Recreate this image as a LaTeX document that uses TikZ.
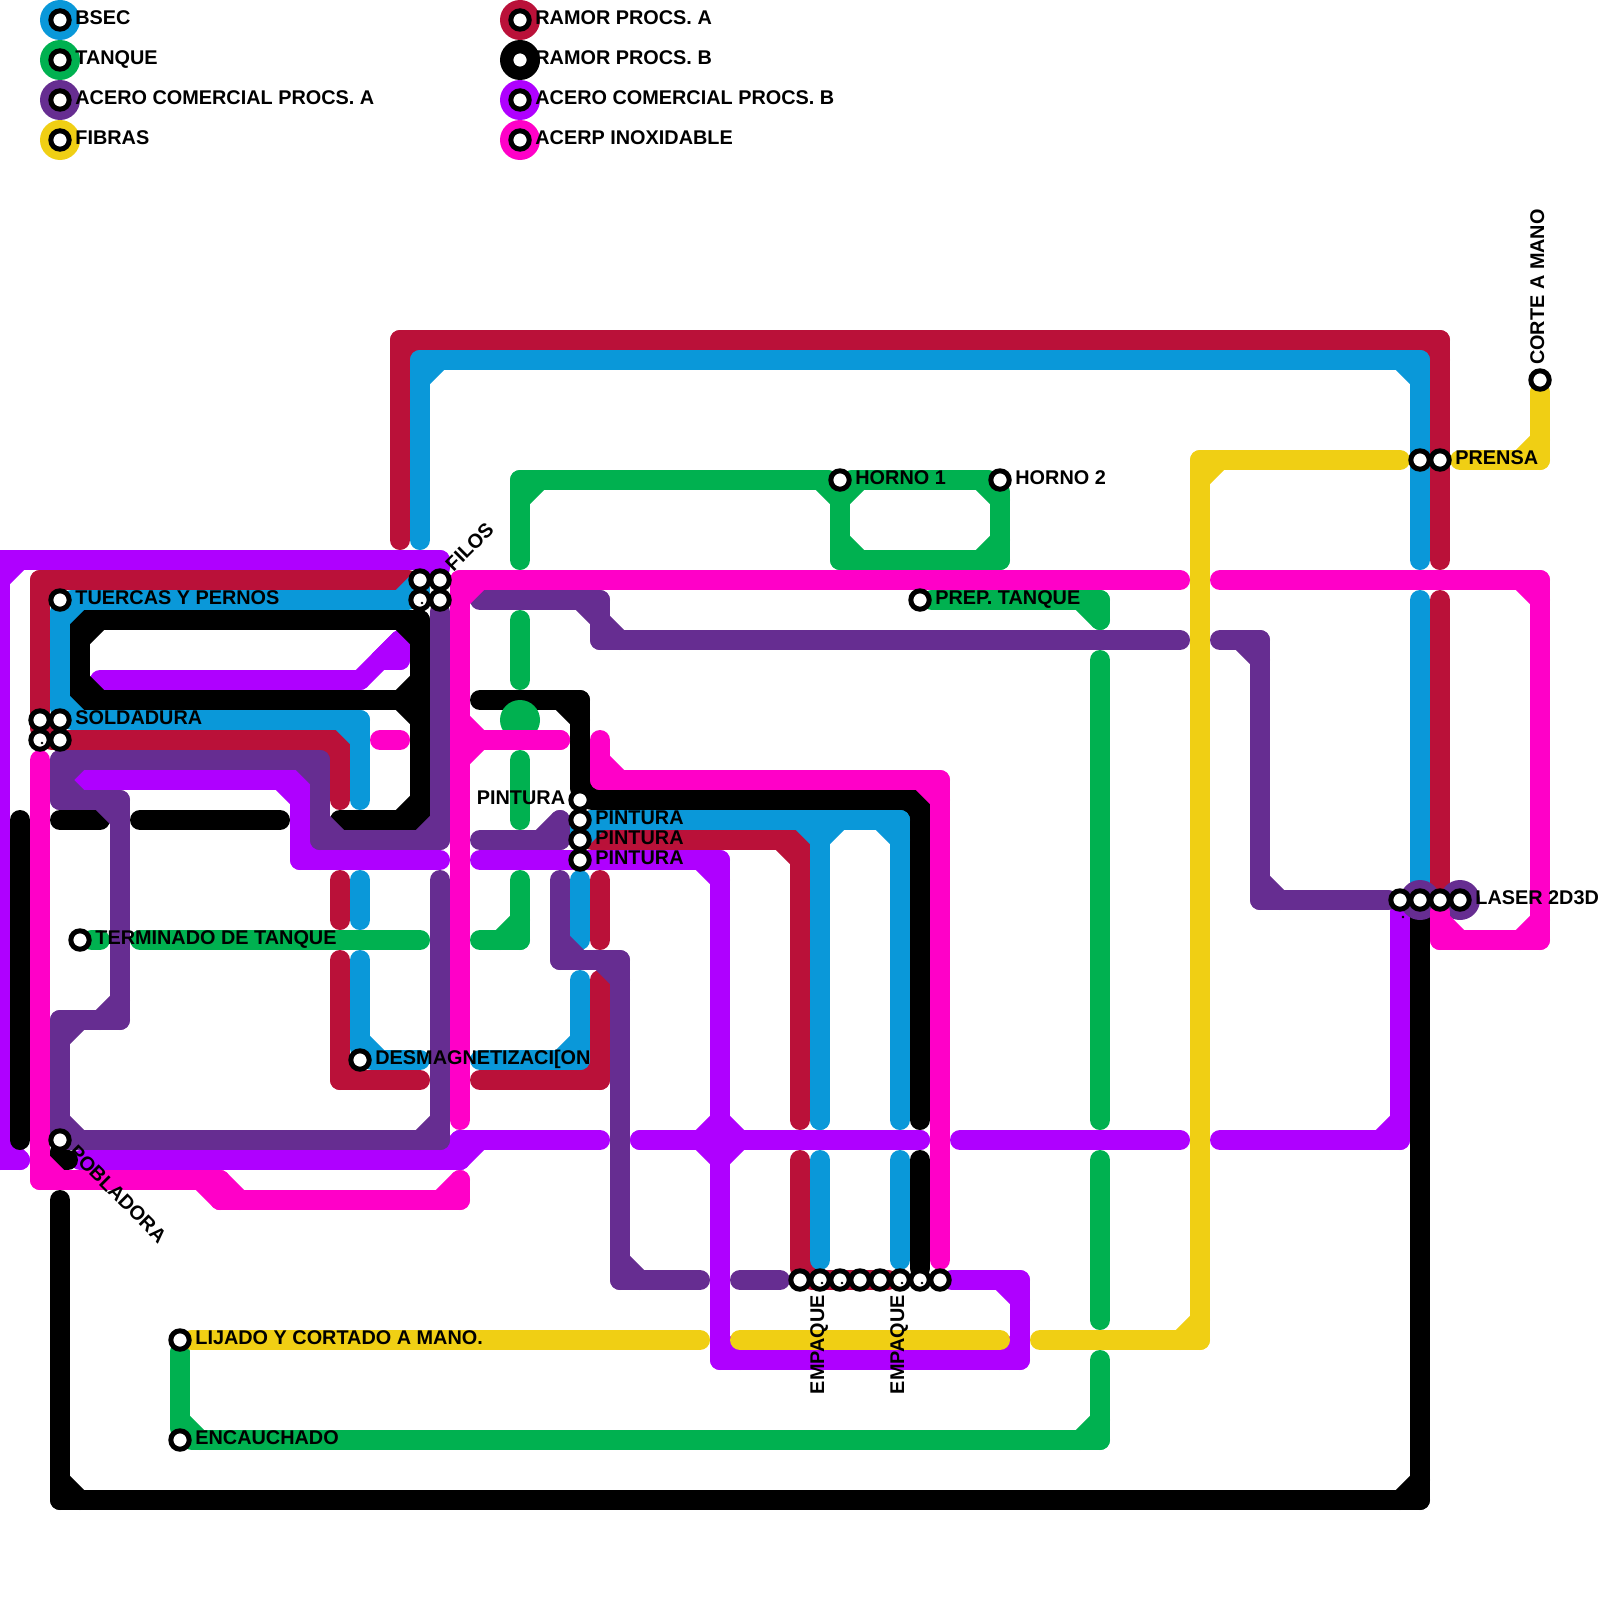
\documentclass[tikz,border=0pt]{standalone}
\usepackage{fontspec}
\setmainfont{Liberation Sans}
\usepackage{xcolor}
\usetikzlibrary{positioning, calc, backgrounds}
\definecolor{bsec}{RGB}{10,152,217}
\definecolor{tanque}{RGB}{0,177,80}
\definecolor{acerA}{RGB}{102,45,145}
\definecolor{fibras}{RGB}{240,207,20}
\definecolor{ramorA}{RGB}{186,17,57}
\definecolor{acerB}{RGB}{175,0,255}
\definecolor{inox}{RGB}{255,0,200}
\newcommand{\route}[2]{%
  \foreach \rpa [count=\ri] in {#2} {%
    \ifnum\ri>1 \draw[rt=#1] \rpb -- \rpa; \fi
    \ifnum\ri>2 \edef\rcmd{\noexpand\draw[rt=#1] ($\rpb!20pt!\rpc$) -- ($\rpb!20pt!\rpa$);}\rcmd \fi
    \global\let\rpc\rpb
    \global\let\rpb\rpa
  }}
\begin{document}
\begin{tikzpicture}[
      x=1pt, y=-1pt,
      rt/.style={draw=#1, line width=20pt, line cap=round},
      stn/.style={circle, draw=black, fill=white, line width=5pt,
                  minimum size=18.4pt, inner sep=0pt},
      lbl/.style={inner sep=0pt, text height=14.3pt, text depth=0pt,
                  font=\fontsize{19.85}{24}\selectfont\bfseries},
      side/.style={lbl, yshift=3pt},
      speck/.style={fill=black}
    ]
    \useasboundingbox (0,0) rectangle (1600,1600);

    % legend
    \foreach \nm/\py in {la/20, lb/60, lc/100, ld/140} \node[stn] (\nm) at (60,\py) {};
    \foreach \nm/\py in {le/20, lf/60, lg/100, lh/140} \node[stn] (\nm) at (520,\py) {};
    \node[side, right=3.5pt of la] (tla) {BSEC};
    \node[side, right=3.5pt of lb] (tlb) {TANQUE};
    \node[side, right=3.5pt of lc] (tlc) {ACERO COMERCIAL PROCS. A};
    \node[side, right=3.5pt of ld] (tld) {FIBRAS};
    \node[side, right=3.5pt of le] (tle) {RAMOR PROCS. A};
    \node[side, right=3.5pt of lf] (tlf) {RAMOR PROCS. B};
    \node[side, right=3.5pt of lg] (tlg) {ACERO COMERCIAL PROCS. B};
    \node[side, right=3.5pt of lh] (tlh) {ACERP INOXIDABLE};

    % stations
    \node[stn] (tuercas) at (60,600) {};
    \foreach \nm/\px/\py in {fa/420/580, fb/440/580, fc/420/600, fd/440/600,
                             sa/40/720, sb/60/720, sc/40/740, sd/60/740} \node[stn] (\nm) at (\px,\py) {};
    \node[stn] (termin) at (80,940) {};
    \node[stn] (desm) at (360,1060) {};
    \node[stn] (pobl) at (60,1140) {};
    \foreach \nm/\py in {pa/800, pb/820, pc/840, pd/860} \node[stn] (\nm) at (580,\py) {};
    \node[stn] (hornoa) at (840,480) {};
    \node[stn] (hornob) at (1000,480) {};
    \node[stn] (prep) at (920,600) {};
    \node[stn] (lijado) at (180,1340) {};
    \node[stn] (encau) at (180,1440) {};
    \foreach \nm/\px in {ema/800, emb/820, emc/840, emd/860, eme/880, emf/900, emg/920, emh/940} \node[stn] (\nm) at (\px,1280) {};
    \foreach \nm/\px in {lza/1400, lzb/1420, lzc/1440, lzd/1460} \node[stn] (\nm) at (\px,900) {};
    \node[stn] (pra) at (1420,460) {};
    \node[stn] (prb) at (1440,460) {};
    \node[stn] (corte) at (1540,380) {};

    % specks
    \foreach \nm in {fc, sc, emb, emc, emf, emg} \fill[speck] ([shift={(2,3)}]\nm) circle (1.4pt);
    \fill[speck] ([shift={(3,17)}]lza) circle (1.4pt);

    % names
    \node[side, right=3.5pt of tuercas] (ttuercas) {TUERCAS Y PERNOS};
    \node[side, right=3.5pt of sb] (tsold) {SOLDADURA};
    \node[side, right=3.5pt of termin] (ttermin) {TERMINADO DE TANQUE};
    \node[side, right=3.5pt of desm] (tdesm) {DESMAGNETIZACI[ON};
    \node[side, left=3pt of pa] (tpa) {PINTURA};
    \node[side, right=3.5pt of pb] (tpb) {PINTURA};
    \node[side, right=3.5pt of pc] (tpc) {PINTURA};
    \node[side, right=3.5pt of pd] (tpd) {PINTURA};
    \node[side, right=3.5pt of hornoa] (thornoa) {HORNO 1};
    \node[side, right=3.5pt of hornob] (thornob) {HORNO 2};
    \node[side, right=3.5pt of prep] (tprep) {PREP. TANQUE};
    \node[side, right=3.5pt of prb] (tprb) {PRENSA};
    \node[side, right=3.5pt of lzd] (tlzd) {LASER 2D3D};
    \node[side, right=3.5pt of lijado] (tlijado) {LIJADO Y CORTADO A MANO.};
    \node[side, right=3.5pt of encau] (tencau) {ENCAUCHADO};
    \node[lbl, rotate=45, anchor=west] (tfilos) at ([shift={(8.5,-12.7)}]fb) {FILOS};
    \node[lbl, rotate=-45, anchor=west] (tpobl) at ([shift={(12.7,8.5)}]pobl) {POBLADORA};
    \node[lbl, rotate=90, anchor=west] (tcorte) at ([shift={(-3,-15)}]corte) {CORTE A MANO};
    \node[lbl, rotate=90, anchor=east] (temb) at ([shift={(-3,15)}]emb) {EMPAQUE};
    \node[lbl, rotate=90, anchor=east] (temf) at ([shift={(-3,15)}]emf) {EMPAQUE};

    \begin{scope}[on background layer]
      % ramor A
      \route{ramorA}{(fa),(40,580),(sc),(340,740),(340,800)}
      \route{ramorA}{(400,540),(400,340),(1440,340),(1440,560)}
      \route{ramorA}{(1440,600),(lzc)}
      \route{ramorA}{(340,880),(340,920)}
      \route{ramorA}{(340,960),(340,1080),(420,1080)}
      \route{ramorA}{(480,1080),(600,1080),(600,980)}
      \route{ramorA}{(600,880),(600,940)}
      \route{ramorA}{(pc),(800,840),(800,1120)}
      \route{ramorA}{(800,1160),(ema),(emf)}
      % acero B
      \route{acerB}{(20,1160),(0,1160),(0,560),(440,560),(fb)}
      \route{acerB}{(100,680),(360,680)}
      \route{acerB}{(360,680),(400,640)}
      \route{acerB}{(380,660),(400,660),(400,640)}
      \route{acerB}{(80,780),(300,780),(300,860),(440,860)}
      \route{acerB}{(80,1160),(460,1160),(460,1140),(600,1140)}
      \route{acerB}{(480,860),(720,860),(720,1360),(1020,1360),(1020,1280),(emh)}
      \route{acerB}{(640,1140),(720,1140),(720,1100)}
      \route{acerB}{(640,1140),(720,1140),(720,1180)}
      \route{acerB}{(920,1140),(720,1140),(720,1100)}
      \route{acerB}{(920,1140),(720,1140),(720,1180)}
      \route{acerB}{(960,1140),(1180,1140)}
      \route{acerB}{(1220,1140),(1400,1140),(lza)}
      % ramor B
      \route{black}{(400,700),(420,700),(420,620),(80,620),(80,700),(420,700)}
      \route{black}{(80,700),(420,700),(420,820),(340,820)}
      \route{black}{(60,820),(100,820)}
      \route{black}{(140,820),(280,820)}
      \route{black}{(20,820),(20,1140)}
      \route{black}{(pobl),(60,1160)}
      \route{black}{(60,1160),(68,1160)}
      \route{black}{(60,1200),(60,1500),(1420,1500),(lzb)}
      \route{black}{(480,700),(580,700),(pa),(920,800),(920,1120)}
      \route{black}{(920,1160),(emg)}
      % tanque
      \route{tanque}{(520,560),(520,480),(hornoa),(840,560),(1000,560),(hornob),(hornoa),(840,500)}
      \route{tanque}{(520,620),(520,680)}
      \route{tanque}{(520,760),(520,820)}
      \route{tanque}{(520,880),(520,940),(480,940)}
      \route{tanque}{(prep),(1100,600),(1100,620)}
      \route{tanque}{(1100,660),(1100,1120)}
      \route{tanque}{(1100,1160),(1100,1320)}
      \route{tanque}{(lijado),(encau),(1100,1440),(1100,1360)}
      \route{tanque}{(termin),(100,940)}
      \route{tanque}{(140,940),(420,940)}
      \fill[tanque] (520,720) circle (20pt);
      % fibras
      \route{fibras}{(1400,460),(1200,460),(1200,1340),(1040,1340)}
      \route{fibras}{(1460,460),(1540,460),(corte)}
      \route{fibras}{(lijado),(700,1340)}
      \route{fibras}{(740,1340),(1000,1340)}
      % bsec
      \route{bsec}{(fa),(fc),(tuercas),(sb),(360,720),(360,800)}
      \route{bsec}{(420,540),(420,360),(1420,360),(1420,560)}
      \route{bsec}{(1420,600),(lzb)}
      \route{bsec}{(360,880),(360,920)}
      \route{bsec}{(360,960),(desm),(420,1060)}
      \route{bsec}{(480,1060),(580,1060),(580,980)}
      \route{bsec}{(580,880),(580,940)}
      \route{bsec}{(pc),(pb),(900,820),(900,1120)}
      \route{bsec}{(pb),(820,820),(820,1120)}
      \route{bsec}{(900,820),(820,820),(820,1120)}
      \route{bsec}{(820,1160),(820,1260)}
      \route{bsec}{(900,1160),(900,1260)}
      % acero A
      \route{acerA}{(fd),(440,840),(320,840),(320,760),(60,760),(60,800),(120,800),(120,1020),(60,1020),(60,1140),(440,1140),(440,880)}
      \route{acerA}{(480,600),(600,600),(600,640),(1180,640)}
      \route{acerA}{(1220,640),(1260,640),(1260,900),(lza)}
      \route{acerA}{(480,840),(560,840),(560,820)}
      \route{acerA}{(560,880),(560,960),(620,960),(620,1280),(700,1280)}
      \route{acerA}{(740,1280),(780,1280)}
      % rings
      \fill[bsec] (la) circle (20pt);
      \fill[tanque] (lb) circle (20pt);
      \fill[acerA] (lc) circle (20pt);
      \fill[fibras] (ld) circle (20pt);
      \fill[ramorA] (le) circle (20pt);
      \fill[black] (lf) circle (20pt);
      \fill[acerB] (lg) circle (20pt);
      \fill[inox] (lh) circle (20pt);
      \fill[acerA] (lzb) circle (20pt);
      \fill[acerA] (lzd) circle (20pt);
      % inoxidable
      \route{inox}{(40,760),(40,1180),(220,1180),(220,1200),(460,1200),(460,1180)}
      \route{inox}{(1180,580),(460,580),(460,1120)}
      \route{inox}{(560,740),(460,740),(460,720)}
      \route{inox}{(560,740),(460,740),(460,760)}
      \route{inox}{(380,740),(400,740)}
      \route{inox}{(600,740),(600,780),(940,780),(940,1260)}
      \route{inox}{(1220,580),(1540,580),(1540,940),(1440,940),(lzc)}
    \end{scope}
  \end{tikzpicture}
\end{document}
